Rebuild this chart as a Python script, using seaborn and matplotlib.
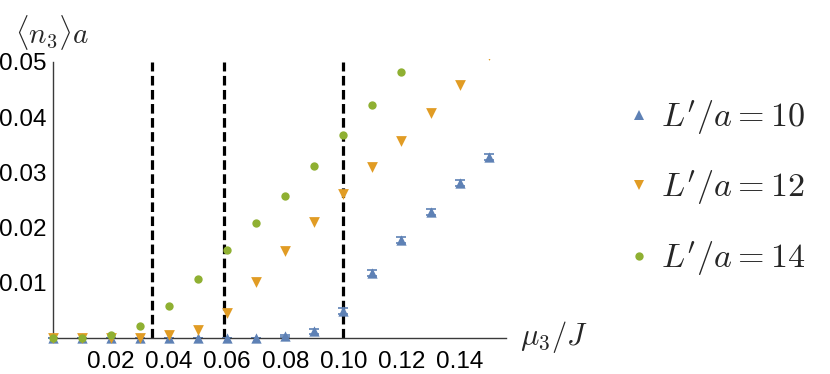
import numpy as np
import pandas as pd
import matplotlib
matplotlib.use("Agg")
import matplotlib.pyplot as plt
import seaborn as sns
from matplotlib.lines import Line2D
from matplotlib.transforms import Bbox, TransformedBbox

# ---- data ----
mu = [0.00, 0.01, 0.02, 0.03, 0.04, 0.05, 0.06, 0.07, 0.08, 0.09,
      0.10, 0.11, 0.12, 0.13, 0.14, 0.15]
n_L10 = [0.0, 0.0, 0.0, 0.0, 0.0, 0.0, 0.0, 0.0, 0.0003, 0.0012,
         0.0049, 0.0118, 0.0178, 0.0228, 0.0281, 0.0328]
err_L10 = [0.0, 0.0, 0.0, 0.0, 0.0, 0.0, 0.0, 0.0, 0.0002, 0.0004,
           0.0005, 0.0006, 0.0005, 0.0005, 0.0005, 0.0005]
n_L12 = [0.0, 0.0, 0.0, 0.0, 0.0006, 0.0015, 0.0045, 0.0102, 0.0157, 0.0210,
         0.0260, 0.0309, 0.0357, 0.0407, 0.0458, 0.0512]
mu_L14 = [0.00, 0.01, 0.02, 0.03, 0.04, 0.05, 0.06, 0.07, 0.08, 0.09,
          0.10, 0.11, 0.12]
n_L14 = [0.0, 0.0, 0.0006, 0.0021, 0.0058, 0.0107, 0.0159, 0.0208, 0.0258, 0.0312,
         0.0368, 0.0422, 0.0482]
transitions = [0.034, 0.059, 0.100]
series_labels = [r"$L'/a=10$", r"$L'/a=12$", r"$L'/a=14$"]
x_ticks = [0.02, 0.04, 0.06, 0.08, 0.10, 0.12, 0.14]
y_ticks = [0.01, 0.02, 0.03, 0.04, 0.05]

colors = ["#5E81B5", "#E19C24", "#8FB032"]
markers = ["^", "v", "o"]
sizes = [55, 60, 36]

sns.set_style("white")
plt.rcParams["mathtext.fontset"] = "cm"
plt.rcParams["font.family"] = ["Liberation Sans", "DejaVu Sans"]

fig = plt.figure(figsize=(8.30, 3.74), dpi=100)
ax = fig.add_axes([53/830, 1-338/374, 453/830, 276/374])

df = pd.concat([
    pd.DataFrame({"mu": mu, "n": n_L10, "L": series_labels[0]}),
    pd.DataFrame({"mu": mu, "n": n_L12, "L": series_labels[1]}),
    pd.DataFrame({"mu": mu_L14, "n": n_L14, "L": series_labels[2]}),
])

# dashed transition lines
for xv in transitions:
    ax.plot([xv, xv], [0, 0.05], color="black", lw=2.3,
            dashes=(3.0, 1.4), zorder=1, clip_on=False)

# error bars for L'/a=10
ax.errorbar(mu, n_L10, yerr=err_L10, fmt="none", ecolor=colors[0],
            elinewidth=1.2, capsize=3.5, capthick=1.2, zorder=2, clip_on=False)

clipbox = TransformedBbox(Bbox([[-0.02, -0.01], [0.2, 0.0506]]), ax.transData)
for i, lab in enumerate(series_labels):
    sub = df[df["L"] == lab]
    sns.scatterplot(data=sub, x="mu", y="n", ax=ax, color=colors[i],
                    marker=markers[i], s=sizes[i], linewidth=0,
                    legend=False, zorder=3 + i)
    coll = ax.collections[-1]
    coll.set_clip_on(True)
    coll.set_clip_box(clipbox)
    coll.set_clip_path(None)

ax.set_xlim(0, 0.156)
ax.set_ylim(0, 0.05)
ax.set_xticks(x_ticks)
ax.set_xticklabels(["%.2f" % v for v in x_ticks])
ax.set_yticks(y_ticks)
ax.set_yticklabels(["%.2f" % v for v in y_ticks])
ax.set_xticks(np.arange(0.005, 0.156, 0.005), minor=True)
ax.set_yticks(np.arange(0.002, 0.0501, 0.002), minor=True)
ax.set_xlabel("")
ax.set_ylabel("")

axis_col = "#3a3a3a"
for s in ["top", "right"]:
    ax.spines[s].set_visible(False)
for s in ["left", "bottom"]:
    ax.spines[s].set_color(axis_col)
    ax.spines[s].set_linewidth(1.0)
ax.tick_params(which="major", direction="in", length=6, width=1.0,
               color=axis_col, labelsize=17.5, pad=5, labelcolor="black")
ax.tick_params(which="minor", direction="in", length=3.5, width=0.8,
               color=axis_col)
ax.tick_params(axis="x", which="major", pad=9)
ax.patch.set_alpha(0)

# axis labels
fig.text(15/830, 1-32/374, r"$\langle n_3\rangle a$", fontsize=21,
         ha="left", va="center")
fig.text(520/830, 1-337/374, r"$\mu_3/J$", fontsize=22,
         ha="left", va="center")

# legend
handles = [Line2D([], [], linestyle="none", marker=markers[i], color=colors[i],
                  markersize=[7.2, 7.2, 6.0][i], markeredgewidth=0)
           for i in range(3)]
fig.legend(handles, series_labels, loc="center left",
           bbox_to_anchor=(622/830, 1-188/374), frameon=False,
           fontsize=24.5, labelspacing=0.95, handletextpad=0.15,
           handlelength=1.0, borderaxespad=0, borderpad=0)

fig.savefig("out.png", dpi=100)
